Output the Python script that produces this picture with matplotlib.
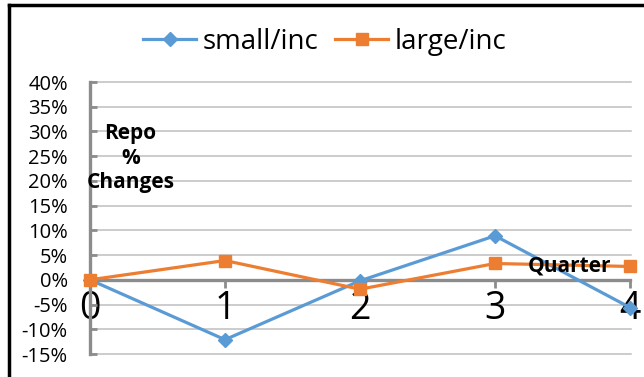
import matplotlib
matplotlib.use("Agg")
import matplotlib.pyplot as plt
from matplotlib.lines import Line2D

plt.rcParams['font.family'] = ['Open Sans', 'DejaVu Sans']

# Quarter-over-quarter changes in repo volume (percent)
quarters = [0, 1, 2, 3, 4]
small_inc = [0.0, -12.1, -0.2, 8.9, -5.6]
large_inc = [0.0, 3.9, -1.9, 3.3, 2.7]
series_names = ["small/inc", "large/inc"]
y_ticks = [-15, -10, -5, 0, 5, 10, 15, 20, 25, 30, 35, 40]

W, H = 644, 377
fig = plt.figure(figsize=(W / 100, H / 100), dpi=100)
ax = fig.add_axes([90 / W, 1 - 354 / H, 540 / W, (354 - 82) / H])

blue = "#5B9BD5"
orange = "#ED7D31"
ax.plot(quarters, small_inc, color=blue, lw=2.3, marker="D", ms=7.5,
        label=series_names[0], clip_on=False, zorder=4)
ax.plot(quarters, large_inc, color=orange, lw=2.3, marker="s", ms=9,
        label=series_names[1], clip_on=False, zorder=5)

ax.set_xlim(0, 4)
ax.set_ylim(-15, 40)
ax.set_yticks(y_ticks)
ax.set_yticklabels([f"{v}%" for v in y_ticks])
ax.set_xticks(quarters)
ax.set_xticklabels([str(q) for q in quarters])

# horizontal gridlines
for v in y_ticks:
    if v != 0:
        ax.plot([0, 4.01], [v, v], color="#BFBFBF", lw=1.1, zorder=1, clip_on=False)

for s in ("top", "right"):
    ax.spines[s].set_visible(False)
ax.spines["left"].set_color("#8C8C8C")
ax.spines["left"].set_linewidth(2.4)
ax.spines["bottom"].set_position(("data", 0))
ax.spines["bottom"].set_color("#8C8C8C")
ax.spines["bottom"].set_linewidth(2.4)
ax.spines["bottom"].set_zorder(2)

ax.tick_params(axis="y", direction="in", length=5, width=2, color="#8C8C8C",
               pad=16, labelsize=14.5)
ax.tick_params(axis="x", direction="out", length=6, width=2, color="#8C8C8C",
               pad=1, labelsize=27)

ax.text(0.3, 24.6, "Repo\n%\nChanges", ha="center", va="center",
        fontsize=15, fontweight="bold", linespacing=1.2, zorder=6)
ax.text(3.55, 2.8, "Quarter", ha="center", va="center",
        fontsize=15, fontweight="bold", zorder=6)

fig.legend(loc="center", bbox_to_anchor=(325 / W, 1 - 42 / H), ncol=2,
           frameon=False, fontsize=20, handlelength=1.9, handletextpad=0.25,
           columnspacing=0.6)

# outer frame
fig.add_artist(Line2D([9 / W, 1], [1 - 5 / H, 1 - 5 / H], color="black", lw=2.5,
                      transform=fig.transFigure))
fig.add_artist(Line2D([9 / W, 9 / W], [0, 1 - 5 / H], color="black", lw=2.5,
                      transform=fig.transFigure))

fig.savefig("out.png", dpi=100)
